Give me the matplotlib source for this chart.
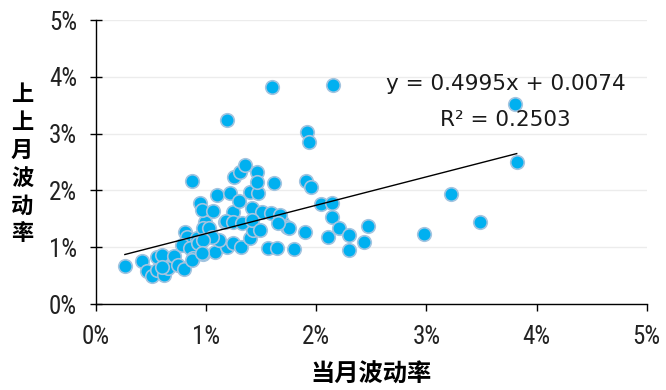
import matplotlib
matplotlib.use("Agg")
import matplotlib.pyplot as plt
import numpy as np
from matplotlib.ticker import FuncFormatter
from matplotlib import font_manager
from matplotlib.font_manager import FontProperties

# Data (in percent units)
cur_vol = [0.263, 0.417, 0.463, 0.508, 0.554, 0.599, 0.554, 0.617, 0.653, 0.708,
           0.744, 0.799, 0.808, 0.826, 0.780, 0.853, 0.880, 0.917, 0.971, 1.080,
           0.989, 0.971, 0.944, 0.962, 0.871, 1.062, 1.098, 1.171, 1.216, 1.243,
           1.298, 1.189, 1.243, 1.316, 1.397, 1.425, 1.416, 1.397, 1.470, 1.506,
           1.588, 1.615, 1.561, 1.642, 1.688, 1.733, 1.252, 1.307, 1.352, 1.461,
           1.461, 1.034, 0.926, 0.871, 1.025, 1.180, 1.243, 1.325, 1.416, 1.488,
           1.116, 1.053, 0.971, 0.962, 1.597, 2.151, 1.189, 3.802, 3.820, 3.221,
           3.485, 2.976, 1.915, 1.933, 1.906, 1.951, 2.042, 2.142, 2.142, 2.205,
           2.296, 2.468, 2.432, 2.296, 2.105, 1.897, 1.797, 1.751, 1.670, 1.652,
           0.599]
prev_vol = [0.669, 0.757, 0.581, 0.493, 0.827, 0.863, 0.599, 0.511, 0.634, 0.845,
            0.687, 0.616, 1.268, 1.180, 1.039, 0.986, 0.810, 1.162, 0.880, 0.915,
            1.444, 1.338, 1.778, 1.655, 2.165, 1.637, 1.919, 1.444, 1.954, 1.620,
            1.813, 1.004, 1.074, 1.004, 1.162, 1.303, 1.690, 1.972, 1.954, 1.620,
            1.602, 2.130, 0.986, 0.986, 1.444, 1.356, 2.236, 2.324, 2.447, 2.324,
            2.148, 1.268, 1.074, 0.775, 1.338, 1.461, 1.444, 1.426, 1.479, 1.303,
            1.127, 1.180, 1.127, 0.898, 3.820, 3.856, 3.239, 3.521, 2.500, 1.937,
            1.444, 1.232, 3.028, 2.852, 2.165, 2.060, 1.761, 1.778, 1.532, 1.338,
            1.215, 1.373, 1.092, 0.951, 1.180, 1.268, 0.968, 1.338, 1.567, 1.426,
            0.651]
slope = 0.4995
intercept = 0.0074  # fraction units
r2 = 0.2503
x_ticks = [0, 1, 2, 3, 4, 5]
y_ticks = [0, 1, 2, 3, 4, 5]
x_label = "当月波动率"
y_label = "上上月波动率"

x = np.array(cur_vol) / 100.0
y = np.array(prev_vol) / 100.0

# pick a narrow/condensed regular font for tick labels if one is installed
cands = []
for f in font_manager.fontManager.ttflist:
    nm = f.name
    narrow = ("Narrow" in nm) or ("Condensed" in nm) or (str(f.stretch) in ("condensed", "semi-condensed", "extra-condensed"))
    if narrow and f.style == "normal" and f.weight in (400, "normal", "regular"):
        cands.append(f)
def rank(f):
    order = ["Liberation Sans Narrow", "Roboto Condensed", "DejaVu Sans", "Open Sans"]
    for i, o in enumerate(order):
        if f.name.startswith(o):
            return i
    return 99
cands.sort(key=rank)
if cands:
    tick_fp = FontProperties(fname=cands[0].fname, size=18)
else:
    tick_fp = FontProperties(family="Liberation Sans", size=14)

cjk = ["Noto Sans CJK SC", "DejaVu Sans"]

fig = plt.figure(figsize=(6.66, 3.90), dpi=100)
ax = fig.add_axes([0.144, 0.2205, 0.827, 0.7282])

ax.scatter(x, y, s=95, c="#00B0F0", edgecolors="#A3C4E0", linewidths=1.2, zorder=3)

xl = np.array([x.min(), x.max()])
ax.plot(xl, slope * xl + intercept, color="black", lw=1.0, zorder=4)

ax.set_xlim(0, 0.05)
ax.set_ylim(0, 0.05)
ax.set_xticks([t / 100 for t in x_ticks])
ax.set_yticks([t / 100 for t in y_ticks])
fmt = FuncFormatter(lambda v, p: f"{v*100:.0f}%")
ax.xaxis.set_major_formatter(fmt)
ax.yaxis.set_major_formatter(fmt)

ax.grid(axis="y", color="#ECECEC", lw=1.0, zorder=0)
ax.set_axisbelow(True)
for s in ["top", "right"]:
    ax.spines[s].set_visible(False)
for s in ["left", "bottom"]:
    ax.spines[s].set_color("black")
    ax.spines[s].set_linewidth(1.0)

ax.tick_params(axis="y", direction="inout", length=9, width=1.0, pad=9)
ax.tick_params(axis="x", direction="out", length=5, width=1.0, pad=10)
for lab in ax.get_xticklabels() + ax.get_yticklabels():
    lab.set_fontproperties(tick_fp)
    lab.set_color("#222222")

ax.set_xlabel(x_label, family=cjk, fontsize=17.5, fontweight="bold", labelpad=10)
fig.text(0.033, 0.579, "\n".join(y_label), family=cjk, fontsize=16, fontweight="bold",
         ha="center", va="center", linespacing=1.27)

ax.text(0.0372, 0.0387, f"y = {slope:.4f}x + {intercept:.4f}", family="DejaVu Sans",
        fontsize=15.5, ha="center", va="center", color="#1a1a1a")
ax.text(0.0372, 0.0324, f"R² = {r2:.4f}", family="DejaVu Sans", fontsize=15.5,
        ha="center", va="center", color="#1a1a1a")

fig.savefig("out.png", dpi=100)
